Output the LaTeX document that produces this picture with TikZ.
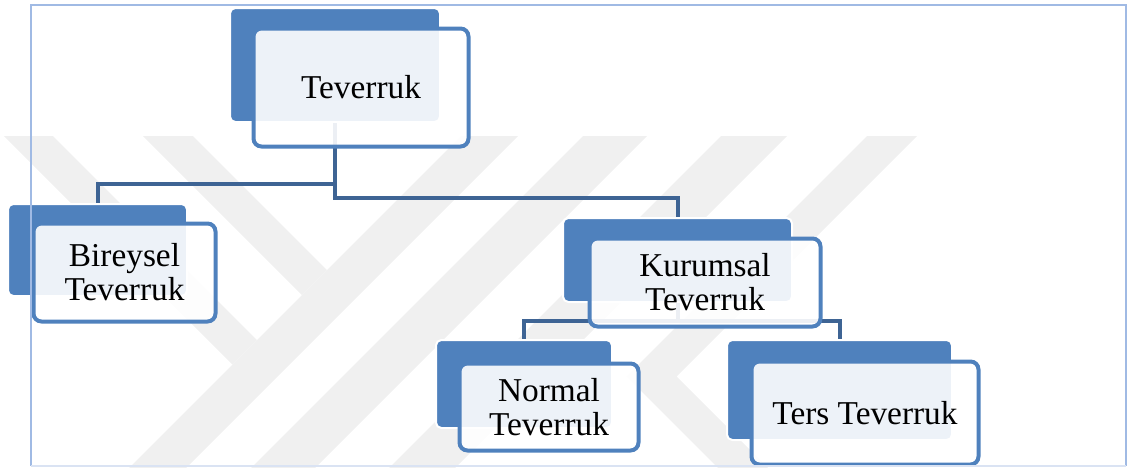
\documentclass[tikz,border=0pt]{standalone}
\usepackage{fontspec}
\setmainfont{Liberation Serif}
\usetikzlibrary{positioning}
\definecolor{smblue}{RGB}{79,129,189}
\definecolor{linkblue}{RGB}{62,100,148}
\definecolor{framebl}{RGB}{160,186,228}
\definecolor{framelt}{RGB}{218,227,243}
\definecolor{wmgray}{RGB}{240,240,240}

\begin{document}
\begin{tikzpicture}[
    x=0.75pt, y=-0.75pt,
    every node/.style={font=\fontsize{25}{25.5}\selectfont},
    back/.style ={draw=white, line width=1.5pt, fill=smblue,
                  rounded corners=4pt, inner sep=0pt},
    front/.style={draw=smblue, line width=3pt, fill=white, fill opacity=0.9,
                  text opacity=1, rounded corners=6pt, inner sep=0pt, align=center},
    link/.style ={draw=linkblue, line width=3pt},
]
\useasboundingbox (0,0) rectangle (1129,468);

% faint watermark behind the chart
\fill[wmgray] (4,136) -- (53,136) -- (257,340) -- (232.5,364.5) -- cycle;
\fill[wmgray] (143,136) -- (193,136) -- (327,270) -- (302,295) -- cycle;
\fill[wmgray] (461,136) -- (518,136) -- (186,468) -- (129,468) -- cycle;
\fill[wmgray] (583,136) -- (647,136) -- (315,468) -- (251,468) -- cycle;
\fill[wmgray] (721,136) -- (787,136) -- (455,468) -- (389,468) -- cycle;
\fill[wmgray] (867,136) -- (917,136) -- (676.5,376.5) -- (768,468)
              -- (718,468) -- (626.5,376.5) -- cycle;

% back panels
\node[back, minimum width=157.5pt, minimum height=85.5pt]  (tevb)   at (335,65)    {};
\node[back, minimum width=134.25pt, minimum height=69pt]   (bireyb) at (97.5,250)  {};
\node[back, minimum width=171.75pt, minimum height=63pt]   (kurb)   at (677.5,260) {};
\node[back, minimum width=132pt, minimum height=66pt]      (normb)  at (524,384)   {};
\node[back, minimum width=168.75pt, minimum height=75pt]   (tersb)  at (839.5,390) {};

% connectors
\draw[link] (tevb.south) -- ++(0,61) -| (bireyb.north);
\draw[link] (tevb.south) -- ++(0,75) -| (kurb.north);
\draw[link] (kurb.south) -- ++(0,18) -| (normb.north);
\draw[link] (kurb.south) -- ++(0,18) -| (tersb.north);

% front panels
\node[front, minimum width=161.25pt, minimum height=88.5pt] (tev)   at (361,87.5)  {Teverruk};
\node[front, minimum width=136.5pt, minimum height=73.5pt]  (birey) at (124.5,272.5) {Bireysel\\Teverruk};
\node[front, minimum width=173.25pt, minimum height=66pt]   (kur)   at (705,282.5) {Kurumsal\\Teverruk};
\node[front, minimum width=134.25pt, minimum height=65.25pt] (norm) at (549,407)   {Normal\\Teverruk};
\node[front, minimum width=170.25pt, minimum height=77.25pt] (ters) at (865,413)   {Ters Teverruk};

% frame
\draw[framebl, line width=2pt] (31,466) -- (31,5) -- (1126,5) -- (1126,466);
\draw[framelt, line width=2pt] (31,466) -- (1126,466);
\end{tikzpicture}
\end{document}
